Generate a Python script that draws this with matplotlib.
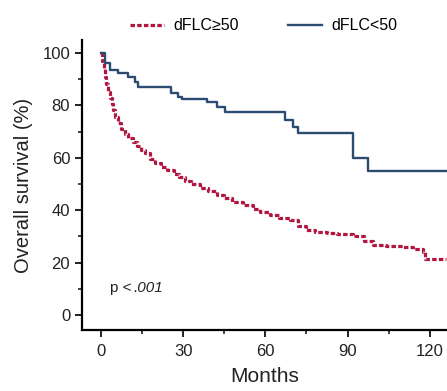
import matplotlib
matplotlib.use("Agg")
import matplotlib.pyplot as plt
from matplotlib.ticker import MultipleLocator

# Kaplan-Meier step points (months, survival %)
low_t = [0, 1.5, 3.3, 6.2, 9.9, 12.4, 13.5, 25.5, 28.1, 29.6, 38.7, 42.2, 45.3,
         67.2, 70.1, 71.9, 92.1, 97.3, 126]
low_s = [100, 96.3, 93.5, 92.3, 91.0, 89.0, 87.1, 84.8, 83.1, 82.5, 81.2, 79.5, 77.4,
         74.4, 71.9, 69.3, 59.8, 55.1, 55.1]

high_t = [0, 0.5, 1, 1.5, 2, 2.7, 3.3, 4, 4.5, 5.3, 6.3, 7.5, 8.8, 10, 11.8, 13,
          14.5, 16.1, 17.9, 19.7, 22, 24, 26.5, 28.5, 30.7, 33, 36, 39.2, 42.2,
          45, 48, 51.9, 55.5, 58, 61.7, 65, 69, 72, 75, 78, 82.4, 86, 92.1, 96,
          99.4, 104, 110.3, 114, 117.6, 118.2, 126]
high_s = [100, 97, 94, 91, 88, 85, 83, 80.5, 78.2, 75.5, 73.2, 71, 69, 67.5, 66,
          64.5, 63, 61.7, 59.5, 58.2, 56.5, 55.3, 53.8, 52.5, 51.3, 50, 48.6,
          47.5, 45.8, 44.5, 43.3, 42.0, 40.3, 39.3, 38.2, 37.2, 36.3, 34, 32.4,
          31.8, 31.2, 30.8, 30.0, 28.2, 26.7, 26.3, 26.0, 25.2, 24.2, 21.5, 21.5]

x_ticks = [0, 30, 60, 90, 120]
y_ticks = [0, 20, 40, 60, 80, 100]

red = '#b0163f'
blue = '#2c4b70'
plt.rcParams['font.family'] = ['Liberation Sans', 'DejaVu Sans']

fig = plt.figure(figsize=(4.47, 3.91), dpi=100)
ax = fig.add_axes([0.1834, 0.156, 0.8166, 0.742])

ax.plot(high_t, high_s, drawstyle='steps-post', color=red, lw=2.3,
        linestyle=(0, (1.4, 0.7)), label='dFLC≥50')
ax.plot(low_t, low_s, drawstyle='steps-post', color=blue, lw=1.7,
        label='dFLC<50')

ax.set_xlim(-6.9, 126.3)
ax.set_ylim(-5.7, 105)
ax.set_xticks(x_ticks)
ax.set_yticks(y_ticks)
ax.xaxis.set_minor_locator(MultipleLocator(15))
ax.yaxis.set_minor_locator(MultipleLocator(10))
for s in ['top', 'right']:
    ax.spines[s].set_visible(False)
for s in ['left', 'bottom']:
    ax.spines[s].set_linewidth(1.6)
ax.tick_params(which='major', length=5, width=1.4, labelsize=12, colors='#222222')
ax.tick_params(axis='x', which='major', pad=5)
ax.tick_params(which='minor', length=3, width=1.2, colors='#222222')

ax.set_xlabel('Months', fontsize=15, color='#222222', labelpad=6)
ax.set_ylabel('Overall survival (%)', fontsize=14.5, color='#222222', labelpad=7)

ax.text(3.3, 10.3, 'p <', fontsize=11, va='center', ha='left', color='#222222')
ax.annotate('.001', xy=(3.3, 10.3), xytext=(17, 0), textcoords='offset points',
            fontsize=11, style='italic', va='center', ha='left', color='#222222')

fig.legend(loc='upper center', bbox_to_anchor=(0.59, 0.99), ncol=2, frameon=False,
           fontsize=11.5, handlelength=2.1, handletextpad=0.6, columnspacing=3.1)

fig.savefig('out.png', dpi=100)
